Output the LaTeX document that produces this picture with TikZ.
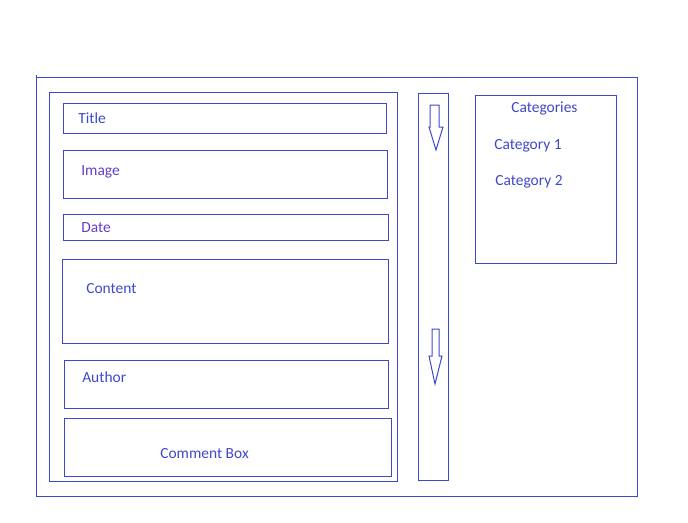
\documentclass[tikz,border=0pt]{standalone}
\usepackage{fontspec}
\setmainfont{Carlito}
\definecolor{pb}{HTML}{3F48CC}
\definecolor{pp}{HTML}{6240C4}
\begin{document}
\begin{tikzpicture}[x=0.75pt,y=-0.75pt,
  box/.style={draw=pb,line width=0.75pt,inner sep=0pt,anchor=north west},
  lbl/.style={text=pb,inner sep=0pt,anchor=base west,font=\fontsize{11.6}{13}\selectfont},
  arr/.style={draw=pb,line width=0.75pt,line join=miter}]
\useasboundingbox (0,0) rectangle (688,522);
% outer frame
\node[box,minimum width=601*0.75pt,minimum height=419*0.75pt] (frame) at (36,77) {};
\coordinate (tickA) at (36,75);
\draw[draw=pb,line width=0.75pt] (tickA) -- (frame.north west);
\node[box,minimum width=348*0.75pt,minimum height=389*0.75pt] (main) at (49,92) {};
\node[box,minimum width=323*0.75pt,minimum height=30*0.75pt] (title) at (63,103) {};
\node[box,minimum width=324*0.75pt,minimum height=48*0.75pt] (image) at (63,150) {};
\node[box,minimum width=325*0.75pt,minimum height=26*0.75pt] (date) at (63,214) {};
\node[box,minimum width=326*0.75pt,minimum height=84*0.75pt] (content) at (62,259) {};
\node[box,minimum width=324*0.75pt,minimum height=48*0.75pt] (author) at (64,360) {};
\node[box,minimum width=327*0.75pt,minimum height=58*0.75pt] (comment) at (64,418) {};
\node[box,minimum width=30*0.75pt,minimum height=387*0.75pt] (scroll) at (418,93) {};
\node[box,minimum width=141*0.75pt,minimum height=168*0.75pt] (cats) at (475,95) {};
% labels
\node[lbl] (tTitle) at (78,123) {Title};
\node[lbl,text=pp] (tImage) at (81,175) {Image};
\node[lbl,text=pp] (tDate) at (81,232) {Date};
\node[lbl] (tContent) at (86,293) {Content};
\node[lbl] (tAuthor) at (82,382) {Author};
\node[lbl] (tComment) at (160,458) {Comment Box};
\node[lbl] (tCats) at (511,112) {Categories};
\node[lbl] (tCat1) at (494,149) {Category 1};
\node[lbl] (tCat2) at (495,185) {Category 2};
% scroll arrows
\draw[arr] (430,105) -- (439,105) -- (439,127) -- (443,127) -- (436,150) -- (429,127) -- (430,127) -- cycle;
\draw[arr] (432,329) -- (439,329) -- (439,356) -- (442,356) -- (435,384) -- (429,356) -- (432,356) -- cycle;
\end{tikzpicture}
\end{document}
